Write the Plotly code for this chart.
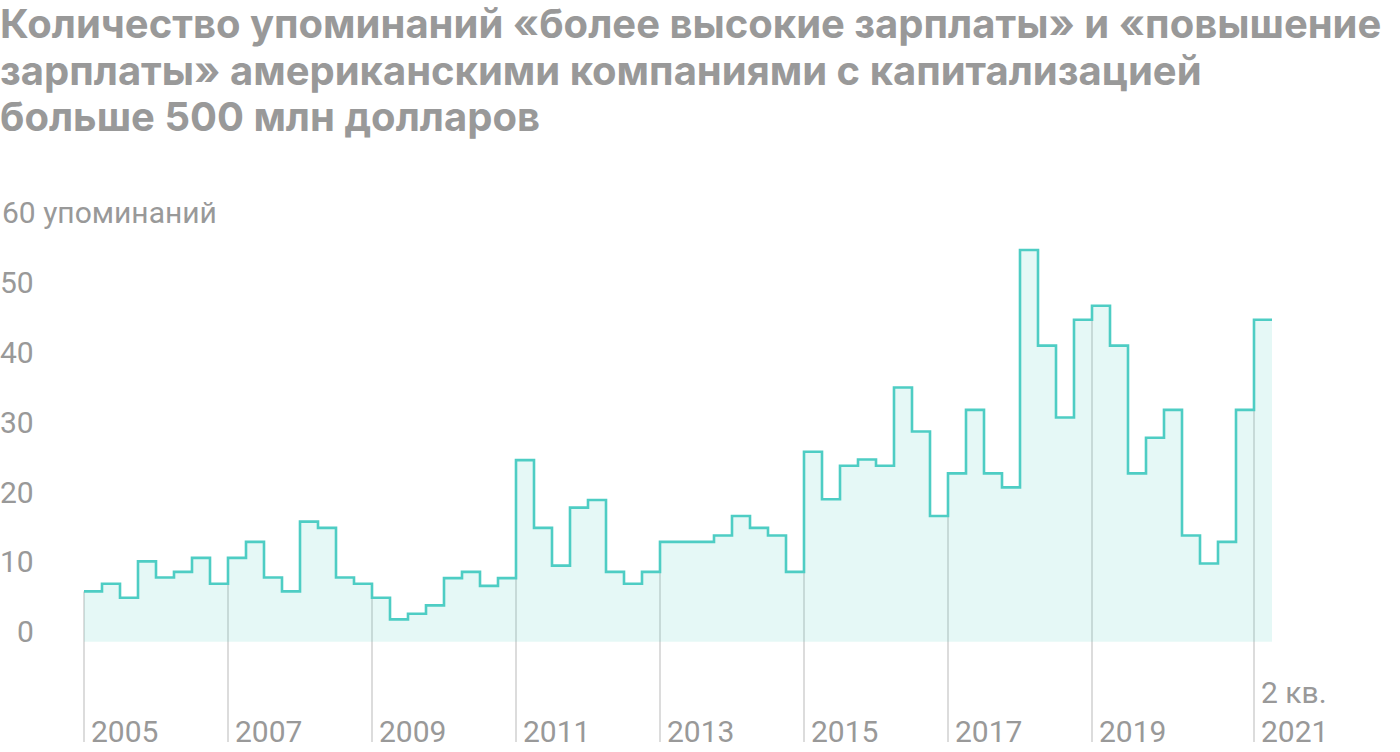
import plotly.graph_objects as go

# ---- data ----
first_year = 2005
quarters = [f"{first_year + i // 4} Q{i % 4 + 1}" for i in range(66)]
mentions = [
    7.2, 8.3, 6.3, 11.5,      # 2005
    9.2, 10.0, 12.0, 8.3,     # 2006
    12.0, 14.3, 9.2, 7.2,     # 2007
    17.2, 16.3, 9.2, 8.3,     # 2008
    6.3, 3.2, 4.0, 5.2,       # 2009
    9.1, 10.0, 8.0, 9.1,      # 2010
    26.0, 16.3, 10.9, 19.2,   # 2011
    20.3, 10.0, 8.3, 10.0,    # 2012
    14.3, 14.3, 14.3, 15.2,   # 2013
    18.0, 16.3, 15.2, 10.0,   # 2014
    27.2, 20.4, 25.2, 26.1,   # 2015
    25.2, 36.4, 30.1, 18.0,   # 2016
    24.1, 33.2, 24.1, 22.1,   # 2017
    56.1, 42.4, 32.1, 46.1,   # 2018
    48.1, 42.4, 24.1, 29.2,   # 2019
    33.2, 15.2, 11.2, 14.3,   # 2020
    33.2, 46.1,               # 2021
]
x_tick_years = [2005, 2007, 2009, 2011, 2013, 2015, 2017, 2019]
x_tick_labels = ["2005", "2007", "2009", "2011", "2013", "2015", "2017", "2019"]
last_label = "2 кв.<br>2021"
y_ticks = [0, 10, 20, 30, 40, 50]
y_top_tick = 60
y_top_label = "60 упоминаний"
title_lines = [
    "Количество упоминаний «более высокие зарплаты» и «повышение",
    "зарплаты» американскими компаниями с капитализацией",
    "больше 500 млн долларов",
]

# ---- derived positions ----
xs = [first_year + i / 4 for i in range(len(mentions))]
x_step = xs + [xs[-1] + 0.25]
y_step = mentions + [mentions[-1]]

W, H = 1400, 752
PX_PER_YEAR = 72.0
X0_PX = 84.0
Y0_PX = 641.7
PX_PER_UNIT = 6.983
x_range = [first_year - X0_PX / PX_PER_YEAR, first_year + (W - X0_PX) / PX_PER_YEAR]
y_range = [-(H - Y0_PX) / PX_PER_UNIT, Y0_PX / PX_PER_UNIT]
grid_bottom = -(742 - Y0_PX) / PX_PER_UNIT

LINE = "#4ECDC4"
FILL = "rgba(78,205,196,0.15)"
GRID = "#dcdcdc"
TXT = "#999999"

# gridline segments: from bottom up to lower of adjacent steps
grid_x, grid_y = [], []
grid_positions = x_tick_years + [xs[-1]]
for gx in grid_positions:
    if gx not in xs:
        continue
    i = xs.index(gx)
    lo = mentions[i] if i == 0 else min(mentions[i - 1], mentions[i])
    grid_x += [gx, gx, None]
    grid_y += [grid_bottom, lo, None]

fig = go.Figure()
fig.add_trace(go.Scatter(x=grid_x, y=grid_y, mode="lines",
                         line=dict(color=GRID, width=2), hoverinfo="skip"))
fig.add_trace(go.Scatter(x=x_step, y=y_step, mode="lines", line_shape="hv",
                         fill="tozeroy", fillcolor=FILL,
                         line=dict(color=LINE, width=2.6), hoverinfo="skip"))

ann = []
# title, one annotation per line for exact line spacing
for k, line in enumerate(title_lines):
    ann.append(dict(text=line, x=0, y=1, xref="paper", yref="paper",
                    xanchor="left", yanchor="top", align="left", showarrow=False,
                    xshift=-2, yshift=3 - 46.7 * k,
                    font=dict(family="Inter", size=40, color=TXT, weight="bold")))
# y labels
for v in y_ticks:
    ann.append(dict(text=str(v), x=36 / W, y=v, xref="paper", yref="y",
                    xanchor="right", yanchor="middle", showarrow=False, yshift=10,
                    font=dict(family="Roboto", size=30, color=TXT)))
ann.append(dict(text=y_top_label, x=0, y=y_top_tick, xref="paper", yref="y",
                xanchor="left", yanchor="middle", showarrow=False, yshift=10,
                font=dict(family="Roboto", size=30, color=TXT)))
# x labels
for yr, lab in zip(x_tick_years, x_tick_labels):
    ann.append(dict(text=lab, x=yr, y=(H - 731) / H, xref="x", yref="paper",
                    xanchor="left", yanchor="middle", showarrow=False, xshift=5,
                    font=dict(family="Roboto", size=30, color=TXT)))
ann.append(dict(text=last_label, x=xs[-1], y=(H - 751) / H, xref="x", yref="paper",
                xanchor="left", yanchor="bottom", align="left", showarrow=False, xshift=5,
                font=dict(family="Roboto", size=30, color=TXT)))

fig.update_layout(
    width=W, height=H, margin=dict(l=0, r=0, t=0, b=0),
    paper_bgcolor="white", plot_bgcolor="white", showlegend=False,
    xaxis=dict(range=x_range, visible=False, fixedrange=True),
    yaxis=dict(range=y_range, visible=False, fixedrange=True),
    annotations=ann,
)
fig.write_html("out.html")
